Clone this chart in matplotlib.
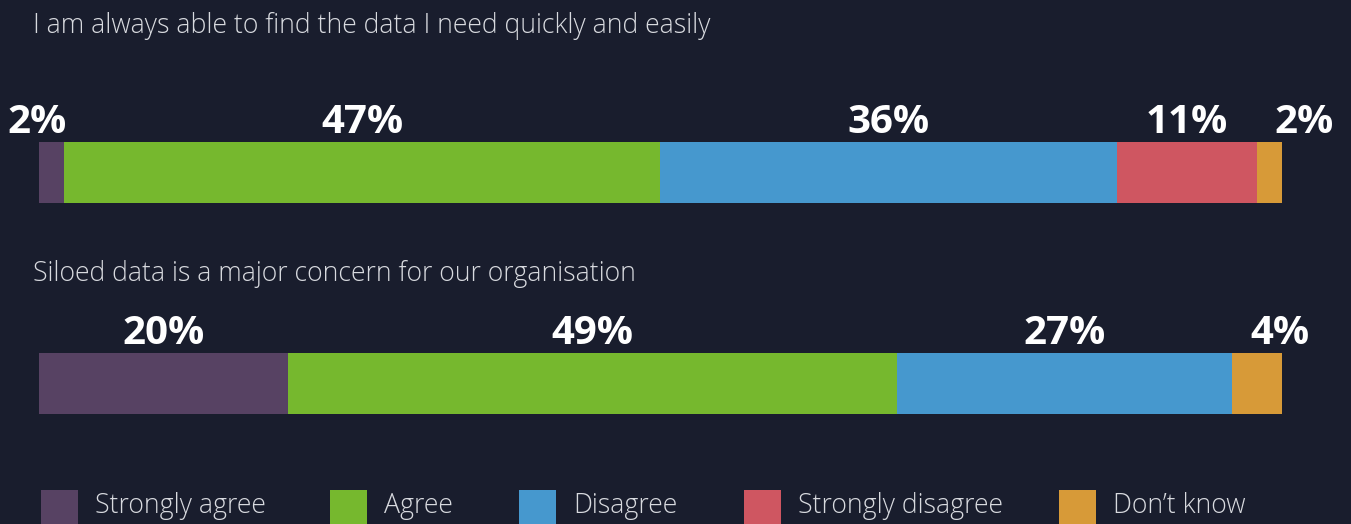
import matplotlib
matplotlib.use("Agg")
import matplotlib.pyplot as plt
from matplotlib.patches import Rectangle

# ---- data ----
questions = ["I am always able to find the data I need quickly and easily",
             "Siloed data is a major concern for our organisation"]
categories = ["Strongly agree", "Agree", "Disagree", "Strongly disagree", "Don\u2019t know"]
q1_values = [2, 47, 36, 11, 2]
q2_values = [20, 49, 27, 0, 4]
colors = ["#574263", "#76b82e", "#4698ce", "#cf5661", "#d79a38"]

BG = "#191d2d"
TXT = "#d8dadf"
W, H = 1351, 524

plt.rcParams['font.family'] = ['Open Sans', 'DejaVu Sans']

fig = plt.figure(figsize=(W / 100, H / 100), dpi=100, facecolor=BG)

# axes for bars: x 0..100 across the bar area, categories 0,1 as rows
ax = fig.add_axes([39 / W, (H - 488.5) / H, 1243 / W, 421 / H])
ax.set_facecolor(BG)
ax.set_xlim(0, 100)
ax.set_ylim(1.5, -0.5)
ax.axis("off")

bar_h = 0.29
rows = [q1_values, q2_values]
for r, vals in enumerate(rows):
    total = sum(vals)
    left = 0.0
    nz = [i for i, v in enumerate(vals) if v > 0]
    for i, v in enumerate(vals):
        if v <= 0:
            continue
        w = v / total * 100
        ax.barh(r, w, left=left, height=bar_h, color=colors[i], linewidth=0)
        x, ha, dx = left + w / 2, "center", 0
        if v < 5 and i == nz[0]:
            x, ha, dx = left + w, "right", 1.5
        elif v < 5 and i == nz[-1]:
            x, ha, dx = left, "left", 13
        ax.annotate(f"{v}%", xy=(x, r - bar_h / 2),
                    xytext=(dx, 6.5), textcoords="offset points",
                    ha=ha, va="baseline", fontsize=29,
                    fontweight="bold", color="white")
        left += w

# question titles
fig.text(33 / W, 1 - 33 / H, questions[0], fontsize=19.2, fontweight="light",
         color=TXT, ha="left", va="baseline")
fig.text(33 / W, 1 - 281 / H, questions[1], fontsize=19.2, fontweight="light",
         color=TXT, ha="left", va="baseline")

# legend
sq_x = [41, 330, 519, 744, 1059]
for x, c, lab in zip(sq_x, colors, categories):
    fig.patches.append(Rectangle((x / W, 0), 37 / W, 34 / H,
                                 transform=fig.transFigure, facecolor=c,
                                 edgecolor="none"))
    fig.text((x + 54) / W, 1 - 513 / H, lab, fontsize=19.2, fontweight="light",
             color=TXT, ha="left", va="baseline")

fig.savefig("out.png", dpi=100, facecolor=BG)
